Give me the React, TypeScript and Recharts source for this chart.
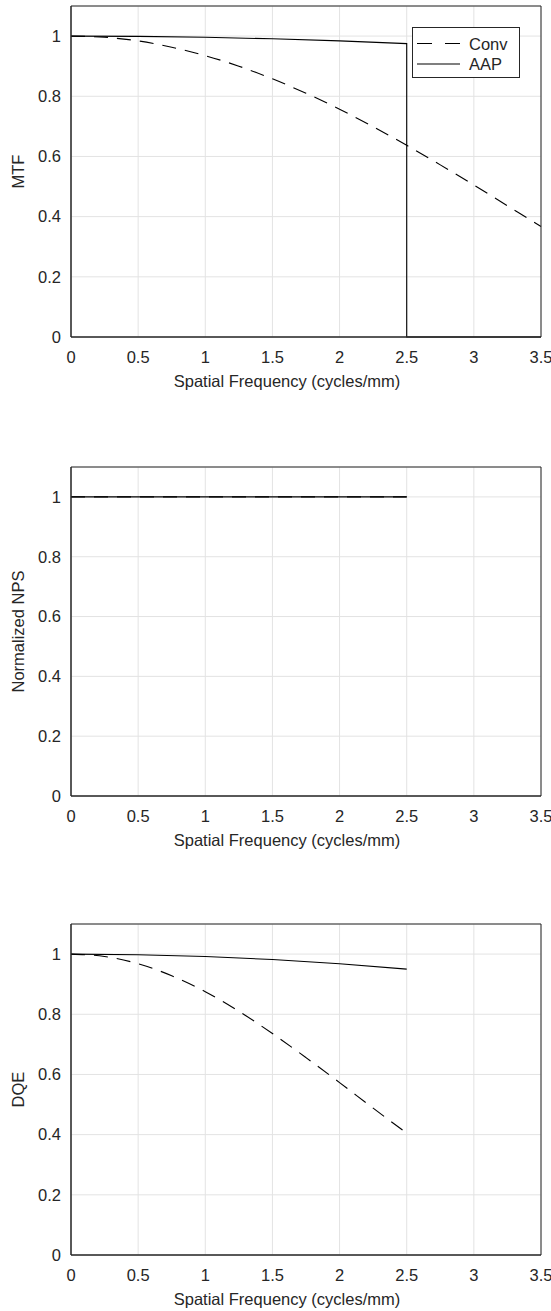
import React from "react";
import { LineChart, Line, XAxis, YAxis, CartesianGrid, Legend } from "recharts";

// axis ticks
const xTicks = [0, 0.5, 1, 1.5, 2, 2.5, 3, 3.5];
const yTicks = [0, 0.2, 0.4, 0.6, 0.8, 1];

// MTF
const mtfConvFreq = [0, 0.25, 0.5, 0.75, 1, 1.25, 1.5, 1.75, 2, 2.25, 2.5, 2.75, 3, 3.25, 3.5];
const mtfConv = [1, 0.996, 0.984, 0.963, 0.935, 0.9, 0.858, 0.81, 0.757, 0.699, 0.637, 0.572, 0.505, 0.436, 0.367];
const mtfAapFreq = [0, 0.5, 1, 1.5, 2, 2.5, 2.5, 3.5];
const mtfAap = [1, 0.999, 0.996, 0.991, 0.984, 0.975, 0, 0];

// normalized NPS
const npsFreq = [0, 0.5, 1, 1.5, 2, 2.5];
const npsConv = [1, 1, 1, 1, 1, 1];
const npsAap = [1, 1, 1, 1, 1, 1];

// DQE
const dqeConvFreq = [0, 0.25, 0.5, 0.75, 1, 1.25, 1.5, 1.75, 2, 2.25, 2.5];
const dqeConv = [1, 0.992, 0.968, 0.928, 0.875, 0.81, 0.736, 0.656, 0.573, 0.488, 0.405];
const dqeAapFreq = [0, 0.5, 1, 1.5, 2, 2.5];
const dqeAap = [1, 0.998, 0.992, 0.982, 0.968, 0.95];

const seriesNames = ["Conv", "AAP"];
const xTitle = "Spatial Frequency (cycles/mm)";

const ink = "#262626";
const gridColor = "#e3e3e3";
const font = "'Liberation Sans', Arial, Helvetica, sans-serif";
const fontSize = 16.5;
const dash = "14 9";

const zip = (xs: number[], ys: number[]) => xs.map((f, i) => ({ f, v: ys[i] }));

function XTitle(props: any) {
  const vb = props.viewBox || { x: 71, y: 0, width: 470 };
  const cx = vb.x + vb.width / 2 - 19;
  const cy = vb.y + 44;
  return (
    <text x={cx} y={cy} textAnchor="middle" dominantBaseline="central" fill={ink} fontFamily={font} fontSize={fontSize}>
      {xTitle}
    </text>
  );
}

function YTitle(props: any) {
  const vb = props.viewBox || { x: 0, y: 0, height: 330 };
  const cx = vb.x + 18;
  const cy = vb.y + vb.height / 2;
  return (
    <text
      x={cx}
      y={cy}
      transform={`rotate(-90 ${cx} ${cy})`}
      textAnchor="middle"
      dominantBaseline="central"
      fill={ink}
      fontFamily={font}
      fontSize={fontSize}
    >
      {props.text}
    </text>
  );
}

function LegendBox() {
  return (
    <div
      style={{
        width: 108,
        height: 51,
        boxSizing: "border-box",
        border: `1px solid ${ink}`,
        background: "#fff",
      }}
    >
      <svg width={106} height={49} style={{ display: "block" }}>
        <line x1={4} x2={47} y1={15.5} y2={15.5} stroke="#000" strokeWidth={1.1} strokeDasharray="15 13" />
        <text x={56} y={15.5} dominantBaseline="central" fill={ink} fontFamily={font} fontSize={fontSize}>
          {seriesNames[0]}
        </text>
        <line x1={4} x2={47} y1={36} y2={36} stroke="#000" strokeWidth={1.1} />
        <text x={56} y={36} dominantBaseline="central" fill={ink} fontFamily={font} fontSize={fontSize}>
          {seriesNames[1]}
        </text>
      </svg>
    </div>
  );
}

function Panel({
  top,
  height,
  plotH,
  yLabel,
  conv,
  aap,
  showLegend,
}: {
  top: number;
  height: number;
  plotH: number;
  yLabel: string;
  conv: { f: number; v: number }[];
  aap: { f: number; v: number }[];
  showLegend?: boolean;
}) {
  const tickStyle = { fill: ink, fontSize, fontFamily: font };
  const line = { stroke: ink, strokeWidth: 1 };
  return (
    <div style={{ position: "absolute", left: 0, top }}>
      <LineChart width={551} height={height} margin={{ top: 6, right: 10, left: 0, bottom: 0 }}>
        <CartesianGrid xAxisId="b" yAxisId="l" stroke={gridColor} strokeWidth={1} />
        <XAxis
          xAxisId="b"
          type="number"
          dataKey="f"
          domain={[0, 3.5]}
          ticks={xTicks}
          interval={0}
          height={height - 6 - plotH}
          tickSize={0}
          tickMargin={14}
          tickLine={false}
          axisLine={line}
          tick={tickStyle}
          label={<XTitle />}
        />
        <XAxis
          xAxisId="bt"
          type="number"
          dataKey="f"
          domain={[0, 3.5]}
          ticks={xTicks}
          interval={0}
          mirror
          tick={false}
          tickSize={5}
          tickLine={line}
          axisLine={line}
        />
        <XAxis
          xAxisId="t"
          orientation="top"
          type="number"
          dataKey="f"
          domain={[0, 3.5]}
          ticks={xTicks}
          interval={0}
          mirror
          tick={false}
          tickSize={5}
          tickLine={line}
          axisLine={line}
        />
        <YAxis
          yAxisId="l"
          type="number"
          domain={[0, 1.1]}
          ticks={yTicks}
          interval={0}
          width={71}
          tickSize={0}
          tickMargin={10}
          tickLine={false}
          axisLine={line}
          tick={tickStyle}
          label={<YTitle text={yLabel} />}
        />
        <YAxis
          yAxisId="lt"
          type="number"
          domain={[0, 1.1]}
          ticks={yTicks}
          interval={0}
          mirror
          tick={false}
          tickSize={5}
          tickLine={line}
          axisLine={line}
        />
        <YAxis
          yAxisId="r"
          orientation="right"
          type="number"
          domain={[0, 1.1]}
          ticks={yTicks}
          interval={0}
          mirror
          tick={false}
          tickSize={5}
          tickLine={line}
          axisLine={line}
        />
        <Line
          xAxisId="b"
          yAxisId="l"
          data={conv}
          dataKey="v"
          name={seriesNames[0]}
          type="monotone"
          stroke="#000"
          strokeWidth={1.1}
          strokeDasharray={dash}
          dot={false}
          activeDot={false}
          isAnimationActive={false}
        />
        <Line
          xAxisId="b"
          yAxisId="l"
          data={aap}
          dataKey="v"
          name={seriesNames[1]}
          type="linear"
          stroke="#000"
          strokeWidth={1.1}
          dot={false}
          activeDot={false}
          isAnimationActive={false}
        />
        {showLegend && (
          <Legend
            layout="vertical"
            align="center"
            verticalAlign="middle"
            wrapperStyle={{ left: 412, top: 27, width: 108, height: 51 }}
            content={() => <LegendBox />}
          />
        )}
      </LineChart>
    </div>
  );
}

export default function App() {
  return (
    <div style={{ position: "absolute", left: 0, top: 0, width: 551, height: 1311, background: "#fff" }}>
      <Panel top={0} height={400} plotH={331} yLabel="MTF" conv={zip(mtfConvFreq, mtfConv)} aap={zip(mtfAapFreq, mtfAap)} showLegend />
      <Panel top={461} height={398} plotH={329} yLabel="Normalized NPS" conv={zip(npsFreq, npsConv)} aap={zip(npsFreq, npsAap)} />
      <Panel top={918} height={393} plotH={331} yLabel="DQE" conv={zip(dqeConvFreq, dqeConv)} aap={zip(dqeAapFreq, dqeAap)} />
    </div>
  );
}
